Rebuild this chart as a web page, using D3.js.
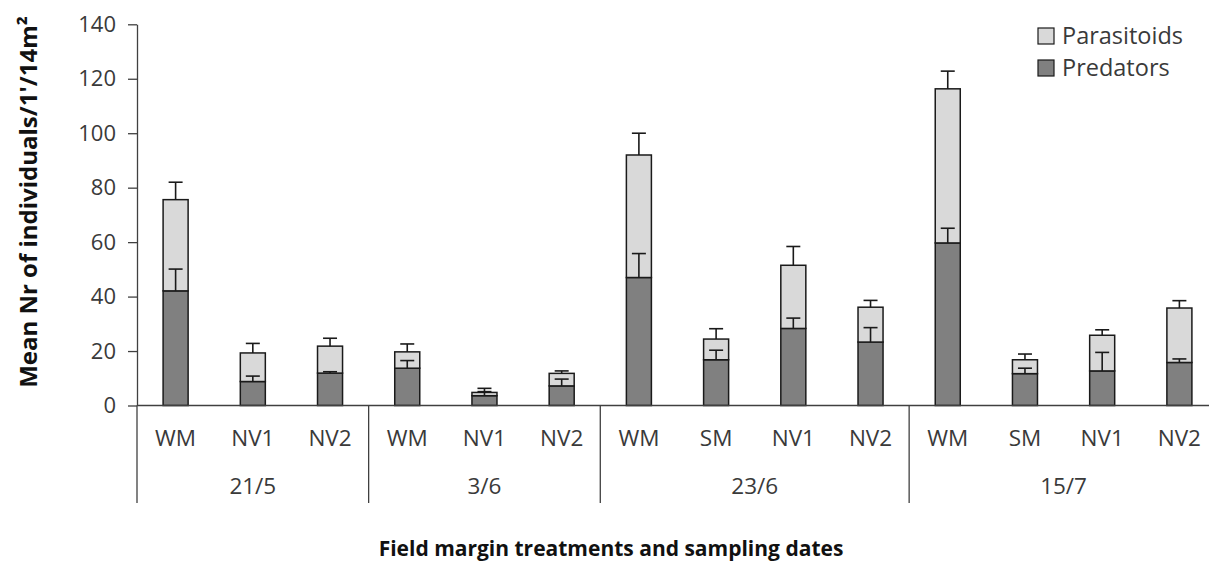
<!DOCTYPE html>
<html>
<head>
<meta charset="utf-8">
<script src="https://cdn.jsdelivr.net/npm/d3@7"></script>
<style>
  body { margin: 0; background: #fff; }
  svg { display: block; }
</style>
</head>
<body>
<div id="chart"></div>
<script>
// sampling dates and the field margin treatments sampled on each
const dates = ["21/5", "3/6", "23/6", "15/7"];
const treatments = [
    ["WM", "NV1", "NV2"],
    ["WM", "NV1", "NV2"],
    ["WM", "SM", "NV1", "NV2"],
    ["WM", "SM", "NV1", "NV2"]
];
const seriesNames = ["Predators", "Parasitoids"];

// mean values per bar (in the order above)
const predators   = [42.1, 8.8, 11.9, 13.7, 3.6, 7.2, 47.0, 16.8, 28.3, 23.3, 59.7, 11.7, 12.7, 15.8];
const parasitoids = [33.5, 10.5, 9.9, 6.0, 1.2, 4.6, 45.0, 7.6, 23.2, 12.8, 56.6, 5.1, 13.1, 20.0];
// standard errors (drawn upward only)
const predatorsSE   = [8.0, 2.0, 0.5, 2.8, 1.5, 2.5, 8.8, 3.5, 3.8, 5.3, 5.4, 2.0, 6.8, 1.3];
const parasitoidsSE = [6.4, 3.5, 2.9, 2.9, 1.5, 0.9, 8.0, 3.8, 6.9, 2.5, 6.5, 2.1, 2.0, 2.7];

const yTicks = [0, 20, 40, 60, 80, 100, 120, 140];

const width = 1209, height = 563;
const colors = { Predators: "#808080", Parasitoids: "#d9d9d9" };
const font = "'Open Sans', sans-serif";

// flatten the categories
const bars = [];
treatments.forEach((list, g) => list.forEach(t => bars.push({ key: g + "-" + t, treatment: t, group: g })));
bars.forEach((b, i) => {
    b.Predators = predators[i];
    b.Parasitoids = parasitoids[i];
    b.PredatorsSE = predatorsSE[i];
    b.ParasitoidsSE = parasitoidsSE[i];
});

const plotLeft = 137, plotRight = 1218, plotTop = 24.3, plotBottom = 405.5;

const x = d3.scaleBand()
    .domain(bars.map(d => d.key))
    .range([plotLeft, plotRight])
    .paddingInner(0.676)
    .paddingOuter(0.338);

const y = d3.scaleLinear()
    .domain([0, 140])
    .range([plotBottom, plotTop]);

const stacked = d3.stack().keys(seriesNames)(bars);

const svg = d3.select("#chart").append("svg")
    .attr("width", width)
    .attr("height", height)
    .style("font-family", font);

// y axis
const yAxis = svg.append("g")
    .attr("transform", `translate(${plotLeft},0)`)
    .call(d3.axisLeft(y).tickValues(yTicks).tickSize(9).tickPadding(12).tickSizeOuter(0));
yAxis.select(".domain").attr("stroke", "#404040").attr("stroke-width", 1.3);
yAxis.selectAll(".tick line").attr("stroke", "#404040").attr("stroke-width", 1.3);
yAxis.selectAll(".tick text")
    .attr("fill", "#3a3a3a")
    .style("font-size", "22px")
    .style("font-family", font);

// bars
const layer = svg.append("g")
    .selectAll("g")
    .data(stacked)
    .join("g")
    .attr("fill", d => colors[d.key]);

layer.selectAll("rect")
    .data(d => d)
    .join("rect")
    .attr("x", d => x(d.data.key))
    .attr("width", x.bandwidth())
    .attr("y", d => y(d[1]))
    .attr("height", d => y(d[0]) - y(d[1]))
    .attr("stroke", "#1a1a1a")
    .attr("stroke-width", 1.5);

// error bars (upward)
const capW = 14;
stacked.forEach(s => {
    const eb = svg.append("g")
        .attr("stroke", "#1a1a1a")
        .attr("stroke-width", 1.6);
    s.forEach(d => {
        const cx = x(d.data.key) + x.bandwidth() / 2;
        const y1 = y(d[1]);
        const y2 = y(d[1] + d.data[s.key + "SE"]);
        eb.append("line").attr("x1", cx).attr("x2", cx).attr("y1", y1).attr("y2", y2);
        eb.append("line").attr("x1", cx - capW / 2).attr("x2", cx + capW / 2).attr("y1", y2).attr("y2", y2);
    });
});

// x axis: baseline, category labels, group separators and dates
svg.append("line")
    .attr("x1", plotLeft).attr("x2", plotRight)
    .attr("y1", y(0)).attr("y2", y(0))
    .attr("stroke", "#404040").attr("stroke-width", 1.3);

svg.append("g")
    .selectAll("text")
    .data(bars)
    .join("text")
    .attr("x", d => x(d.key) + x.bandwidth() / 2)
    .attr("y", 446)
    .attr("text-anchor", "middle")
    .attr("fill", "#3a3a3a")
    .style("font-size", "22.5px")
    .text(d => d.treatment);

let start = 0;
const bounds = [0];
treatments.forEach(list => { start += list.length; bounds.push(start); });

svg.append("g")
    .selectAll("line")
    .data(bounds)
    .join("line")
    .attr("x1", d => plotLeft + d * x.step())
    .attr("x2", d => plotLeft + d * x.step())
    .attr("y1", y(0))
    .attr("y2", 503)
    .attr("stroke", "#404040")
    .attr("stroke-width", 1.3);

svg.append("g")
    .selectAll("text")
    .data(dates)
    .join("text")
    .attr("x", (d, i) => plotLeft + (bounds[i] + bounds[i + 1]) / 2 * x.step())
    .attr("y", 494)
    .attr("text-anchor", "middle")
    .attr("fill", "#3a3a3a")
    .style("font-size", "22.5px")
    .text(d => d);

// axis titles
svg.append("text")
    .attr("transform", "translate(37,202) rotate(-90)")
    .attr("text-anchor", "middle")
    .attr("fill", "#111")
    .style("font-size", "24px")
    .style("font-weight", "bold")
    .text("Mean Nr of individuals/1'/14m²");

svg.append("text")
    .attr("x", 611)
    .attr("y", 556)
    .attr("text-anchor", "middle")
    .attr("fill", "#111")
    .style("font-size", "21px")
    .style("font-weight", "bold")
    .text("Field margin treatments and sampling dates");

// legend
const legend = svg.append("g")
    .selectAll("g")
    .data(["Parasitoids", "Predators"])
    .join("g")
    .attr("transform", (d, i) => `translate(1038,${28 + i * 32})`);

legend.append("rect")
    .attr("width", 16)
    .attr("height", 16)
    .attr("fill", d => colors[d])
    .attr("stroke", "#1a1a1a")
    .attr("stroke-width", 1.2);

legend.append("text")
    .attr("x", 24)
    .attr("y", 15.5)
    .attr("fill", "#3a3a3a")
    .style("font-size", "23.5px")
    .text(d => d);
</script>
</body>
</html>
